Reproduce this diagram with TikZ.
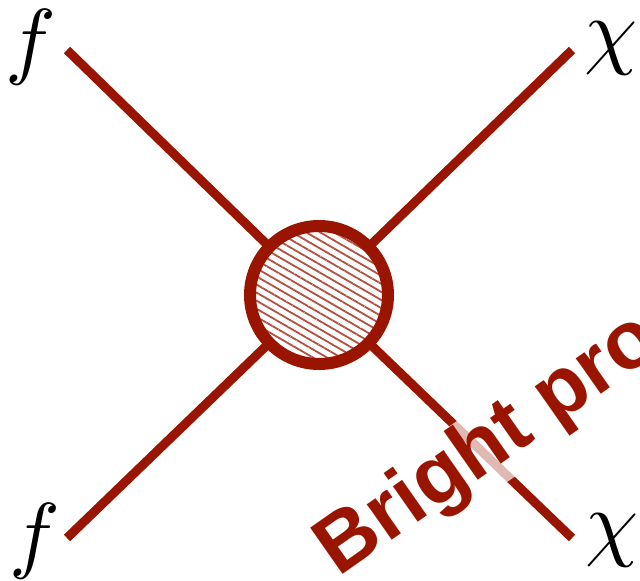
\documentclass[tikz,border=0pt]{standalone}
\usepackage{fontspec}
\newfontfamily\boldsans{Liberation Sans}
\usetikzlibrary{patterns.meta}
\definecolor{dkred}{RGB}{153,21,0}
\tikzset{
  prop/.style={draw=dkred, line width=9pt, line cap=butt},
  lbl/.style={inner sep=0pt, scale=8.5},
  blob/.style={circle, draw=dkred, line width=12pt, minimum size=138pt, inner sep=0pt,
    preaction={fill=white},
    pattern={Lines[angle=-30,distance=7pt,line width=1.8pt]}, pattern color=dkred!75},
  banner/.style={rotate=35, anchor=base west, inner sep=0pt, text=dkred,
    font=\boldsans\bfseries\fontsize{82}{82}\selectfont}
}
\begin{document}
\begin{tikzpicture}[x=1pt,y=-1pt]
\useasboundingbox (0,0) rectangle (640,581);
\clip (0,0) rectangle (640,581);
\coordinate (c) at (319,295);
\coordinate (a1) at (67,50);
\coordinate (a2) at (572,50);
\coordinate (a3) at (67,538);
\coordinate (a4) at (572,538);
\draw[prop] (a1) -- (c);
\draw[prop] (a2) -- (c);
\draw[prop] (a3) -- (c);
\draw[prop] (a4) -- (c);
\node[blob] (v) at (c) {};
\node[lbl] (f1) at (31,47) {$f$};
\node[lbl] (f2) at (35,541) {$f$};
\node[lbl] (x1) at (611,48) {$\chi$};
\node[lbl] (x2) at (612,540) {$\chi$};
\node[banner, fill=white, fill opacity=0.7, text opacity=1, inner sep=1pt] (bp) at (338,578) {Bright pro};
\end{tikzpicture}
\end{document}
